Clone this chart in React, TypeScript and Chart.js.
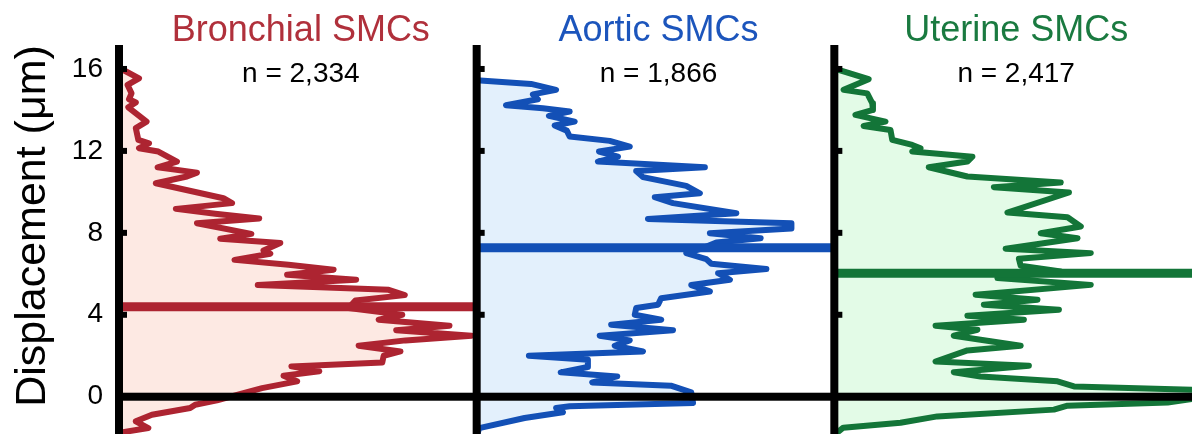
import React, { useEffect, useRef } from "react";
import { Chart, registerables } from "chart.js";

Chart.register(...registerables);

const PANEL_TITLES = ["Bronchial SMCs", "Aortic SMCs", "Uterine SMCs"];
const PANEL_COUNTS = ["n = 2,334", "n = 1,866", "n = 2,417"];
const MEANS = [4.39, 7.27, 6.03];
const Y_TICKS = [0, 4, 8, 12, 16];
const Y_TITLE = "Displacement (μm)";
const LINE_COLORS = ["#ad2431", "#1350b6", "#137538"];
const FILL_COLORS = ["#fde9e3", "#e3f0fc", "#e3fbe7"];
const TITLE_COLORS = ["#b0303b", "#1c55bc", "#1a7a40"];

// density: fraction of panel width; displacement in µm
const BRONCHIAL_DISP = [16.1, 15.95, 15.54, 15.22, 14.81, 14.52, 14.36, 14.13, 13.43, 13.11, 12.54, 12.37, 12.13, 11.97, 11.48, 11.2, 10.94, 10.75, 10.42, 9.69, 9.45, 9.17, 8.93, 8.7, 8.47, 7.95, 7.71, 7.5, 7.14, 6.98, 6.68, 6.44, 6.2, 5.95, 5.71, 5.45, 5.22, 4.96, 4.7, 4.33, 4.0, 3.76, 3.46, 3.24, 2.98, 2.75, 2.49, 2.21, 2.0, 1.67, 1.48, 1.24, 1.02, 0.75, 0.42, 0.18, -0.18, -0.39, -0.55, -0.88, -1.2, -1.53, -1.74, -2.0];
const BRONCHIAL_DENS = [0.0, 0.012, 0.056, 0.024, 0.035, 0.028, 0.047, 0.026, 0.077, 0.047, 0.054, 0.084, 0.056, 0.11, 0.162, 0.108, 0.218, 0.19, 0.103, 0.292, 0.316, 0.159, 0.269, 0.392, 0.218, 0.37, 0.283, 0.451, 0.404, 0.423, 0.323, 0.474, 0.6, 0.47, 0.663, 0.388, 0.754, 0.799, 0.661, 0.642, 0.792, 0.726, 0.924, 0.775, 0.986, 0.801, 0.67, 0.787, 0.74, 0.736, 0.482, 0.56, 0.46, 0.498, 0.4, 0.348, 0.274, 0.213, 0.199, 0.092, 0.047, 0.082, 0.007, 0.0];

const AORTIC_DISP = [15.45, 15.27, 14.98, 14.76, 14.52, 14.23, 14.08, 13.92, 13.71, 13.43, 13.24, 12.99, 12.7, 12.49, 12.21, 11.97, 11.72, 11.48, 11.2, 11.02, 10.72, 10.29, 9.93, 9.74, 9.45, 8.96, 8.68, 8.47, 8.21, 7.98, 7.74, 7.53, 7.2, 7.01, 6.72, 6.49, 6.23, 6.03, 5.71, 5.45, 5.14, 4.81, 4.49, 4.33, 4.0, 3.76, 3.51, 3.24, 2.98, 2.75, 2.49, 2.21, 2.0, 1.8, 1.45, 1.19, 0.99, 0.7, 0.54, 0.21, -0.31, -0.47, -0.55, -0.76, -1.04, -1.53, -1.93];
const AORTIC_DENS = [0.0, 0.152, 0.222, 0.157, 0.171, 0.082, 0.185, 0.26, 0.202, 0.274, 0.218, 0.252, 0.26, 0.372, 0.428, 0.342, 0.395, 0.339, 0.638, 0.446, 0.465, 0.586, 0.624, 0.498, 0.549, 0.726, 0.479, 0.88, 0.88, 0.652, 0.794, 0.67, 0.624, 0.586, 0.642, 0.656, 0.81, 0.675, 0.708, 0.6, 0.652, 0.516, 0.507, 0.446, 0.442, 0.516, 0.376, 0.549, 0.344, 0.428, 0.386, 0.465, 0.146, 0.311, 0.311, 0.235, 0.393, 0.323, 0.543, 0.6, 0.605, 0.26, 0.222, 0.241, 0.134, 0.007, 0.0];

const UTERINE_DISP = [16.05, 15.95, 15.5, 14.98, 14.81, 14.33, 14.0, 13.76, 13.43, 13.22, 13.02, 12.54, 12.29, 12.13, 11.97, 11.72, 11.48, 11.2, 10.75, 10.46, 10.23, 9.97, 8.99, 8.76, 8.31, 7.98, 7.74, 7.22, 7.01, 6.73, 6.39, 6.11, 5.79, 5.46, 4.98, 4.73, 4.49, 4.24, 3.95, 3.76, 3.46, 3.27, 2.98, 2.49, 2.26, 1.72, 1.51, 1.19, 0.99, 0.75, 0.5, 0.34, 0.15, -0.28, -0.44, -0.63, -0.96, -1.27, -1.51, -1.69, -1.85];
const UTERINE_DENS = [0.0, 0.012, 0.096, 0.026, 0.092, 0.106, 0.108, 0.059, 0.143, 0.082, 0.157, 0.162, 0.218, 0.241, 0.218, 0.386, 0.372, 0.264, 0.372, 0.633, 0.446, 0.656, 0.484, 0.652, 0.689, 0.577, 0.68, 0.479, 0.717, 0.516, 0.521, 0.633, 0.456, 0.717, 0.395, 0.568, 0.418, 0.628, 0.372, 0.53, 0.283, 0.4, 0.334, 0.521, 0.372, 0.283, 0.544, 0.334, 0.409, 0.624, 0.67, 1.003, 1.1, 0.932, 0.652, 0.614, 0.288, 0.185, 0.025, 0.012, 0.0];

const SERIES_DISP = [BRONCHIAL_DISP, AORTIC_DISP, UTERINE_DISP];
const SERIES_DENS = [BRONCHIAL_DENS, AORTIC_DENS, UTERINE_DENS];

const FONT = "'Liberation Sans', Arial, Helvetica, sans-serif";

const panelPlugin = {
  id: "panelDecor",
  afterDatasetsDraw(chart: any) {
    const { ctx, chartArea, scales } = chart;
    const xs = scales.x;
    const ys = scales.y;
    ctx.save();
    ctx.fillStyle = "#000";
    const y0 = ys.getPixelForValue(0);
    ctx.fillRect(chartArea.left - 4, y0 - 4, chartArea.right - chartArea.left + 4, 8);
    for (let i = 0; i < PANEL_TITLES.length; i++) {
      const px = xs.getPixelForValue(i);
      ctx.fillRect(px - 4, chartArea.top, 8, chartArea.bottom - chartArea.top);
      Y_TICKS.forEach((t) => {
        const py = ys.getPixelForValue(t);
        ctx.fillRect(px + 3, py - 3, 5, 6);
      });
    }
    ctx.restore();
  },
  afterDraw(chart: any) {
    const { ctx, scales } = chart;
    const xs = scales.x;
    ctx.save();
    ctx.textAlign = "center";
    ctx.textBaseline = "alphabetic";
    for (let i = 0; i < PANEL_TITLES.length; i++) {
      const cx = xs.getPixelForValue(i + 0.5) + 3;
      ctx.fillStyle = TITLE_COLORS[i];
      ctx.font = `36px ${FONT}`;
      ctx.fillText(PANEL_TITLES[i], cx, 41);
      ctx.fillStyle = "#000";
      ctx.font = `28px ${FONT}`;
      ctx.fillText(PANEL_COUNTS[i], cx, 82);
    }
    ctx.translate(45, 226);
    ctx.rotate(-Math.PI / 2);
    ctx.fillStyle = "#000";
    ctx.font = `43px ${FONT}`;
    ctx.fillText(Y_TITLE, 0, 0);
    ctx.restore();
  },
};

export default function App() {
  const ref = useRef<HTMLCanvasElement | null>(null);

  useEffect(() => {
    if (!ref.current) return;
    const densityDatasets = SERIES_DISP.map((disp, i) => ({
      label: PANEL_TITLES[i],
      data: disp.map((y, k) => ({ x: i + SERIES_DENS[i][k], y })),
      borderColor: LINE_COLORS[i],
      backgroundColor: FILL_COLORS[i],
      borderWidth: 6,
      borderJoinStyle: "round" as const,
      borderCapStyle: "round" as const,
      pointRadius: 0,
      tension: 0,
      fill: { value: i },
    }));
    const meanDatasets = MEANS.map((m, i) => ({
      label: PANEL_TITLES[i] + " mean",
      data: [
        { x: i, y: m },
        { x: i + 1, y: m },
      ],
      borderColor: LINE_COLORS[i],
      borderWidth: 9,
      pointRadius: 0,
      fill: false,
    }));
    const chart = new Chart(ref.current, {
      type: "line",
      data: { datasets: [...meanDatasets, ...densityDatasets] as any },
      options: {
        indexAxis: "y",
        animation: false,
        responsive: false,
        devicePixelRatio: 1,
        layout: { padding: { top: 45, left: 0, right: 0, bottom: 0 } },
        plugins: {
          legend: { display: false },
          tooltip: { enabled: false },
          title: { display: false },
        },
        scales: {
          x: {
            type: "linear",
            min: 0,
            max: 3,
            display: false,
          },
          y: {
            type: "linear",
            position: "left",
            min: -1.82,
            max: 17.17,
            grid: { display: false, drawTicks: false },
            border: { display: false },
            ticks: {
              color: "#000",
              padding: 16,
              font: { size: 28, family: FONT },
            },
            afterBuildTicks: (s: any) => {
              s.ticks = Y_TICKS.map((v) => ({ value: v }));
            },
            afterFit: (s: any) => {
              s.width = 119;
              s.paddingTop = 0;
              s.paddingBottom = 0;
            },
          },
        },
      } as any,
      plugins: [panelPlugin],
    });
    return () => chart.destroy();
  }, []);

  return (
    <div style={{ position: "absolute", left: 0, top: 0, width: 1192, height: 434, background: "#fff" }}>
      <canvas ref={ref} width={1192} height={434} style={{ display: "block" }} />
    </div>
  );
}
